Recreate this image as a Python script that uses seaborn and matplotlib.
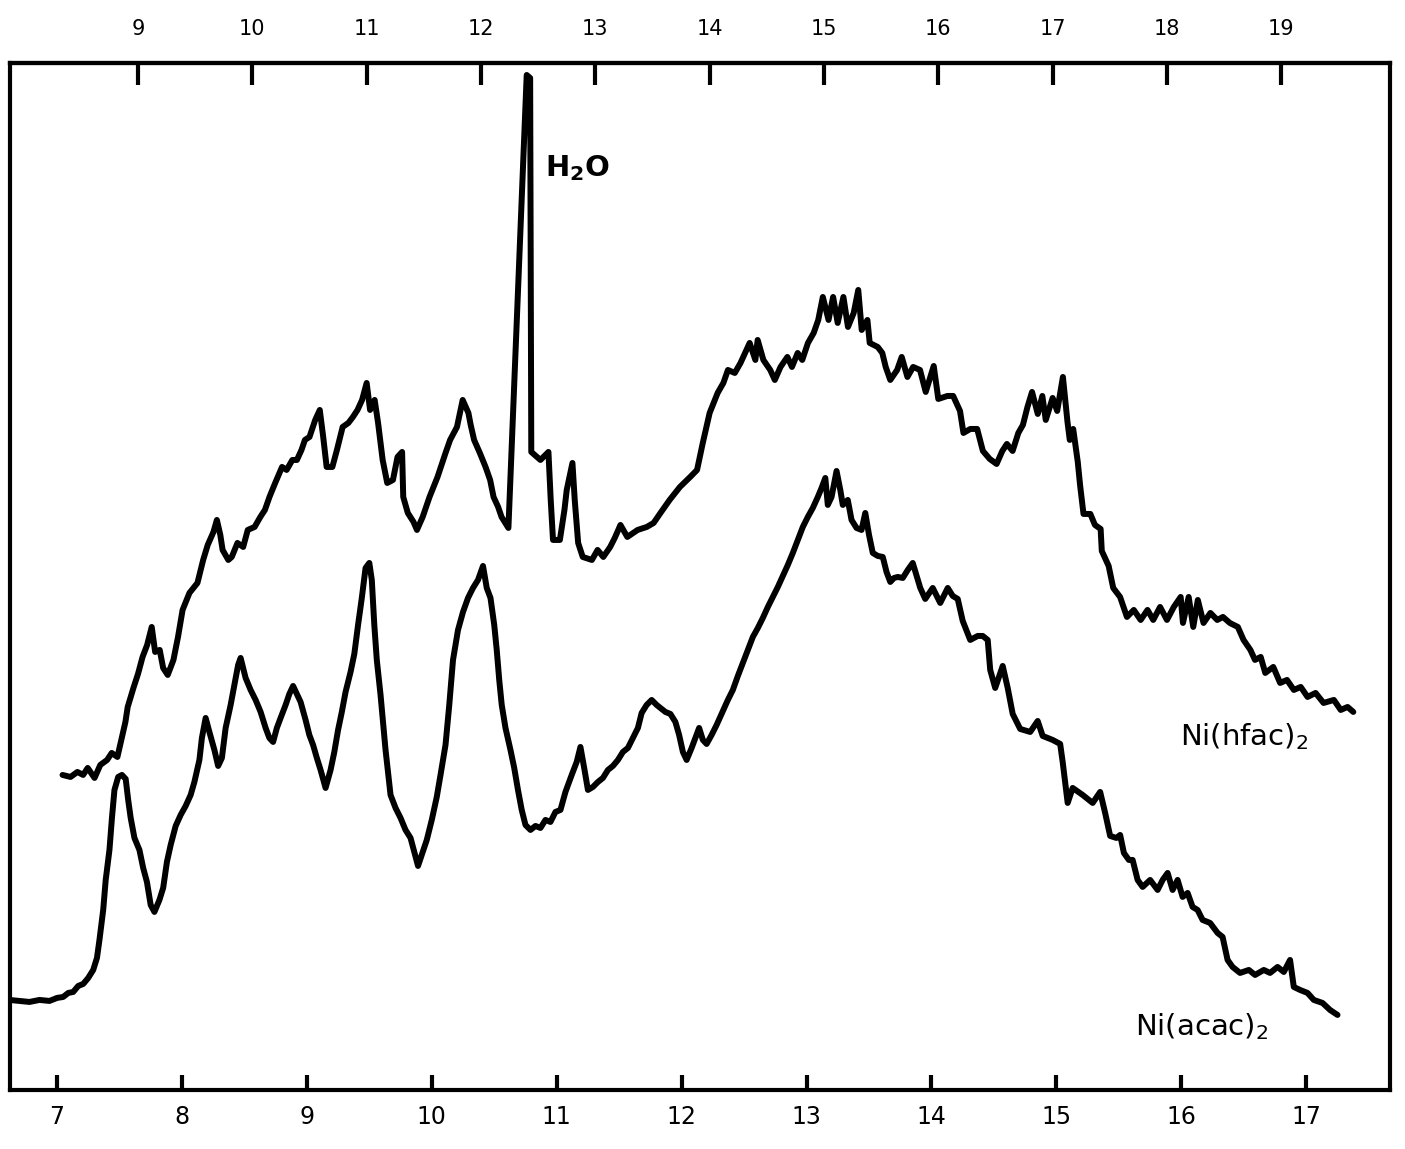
import numpy as np
import matplotlib
matplotlib.use("Agg")
import matplotlib.pyplot as plt
import seaborn as sns

# Ni(acac)2 photoelectron spectrum: ionization energy (eV, lower scale) and count rate (arb. units)
acac_ev = [6.62, 6.70, 6.78, 6.86, 6.94, 7.00, 7.05, 7.09, 7.13, 7.17, 7.21, 7.25, 7.29, 7.32, 7.34,
           7.37, 7.39, 7.42, 7.44, 7.46, 7.49, 7.52, 7.55, 7.57, 7.59, 7.62, 7.66, 7.69, 7.72, 7.75,
           7.78, 7.82, 7.85, 7.88, 7.91, 7.95, 7.99, 8.03, 8.07, 8.10, 8.14, 8.16, 8.19, 8.22, 8.26,
           8.29, 8.32, 8.35, 8.39, 8.42, 8.45, 8.47, 8.51, 8.55, 8.59, 8.63, 8.67, 8.70, 8.73, 8.76,
           8.79, 8.83, 8.86, 8.89, 8.92, 8.95, 8.99, 9.02, 9.05, 9.08, 9.11, 9.15, 9.19, 9.22, 9.25,
           9.28, 9.31, 9.35, 9.38, 9.41, 9.44, 9.47, 9.50, 9.52, 9.54, 9.56, 9.59, 9.61, 9.63, 9.67,
           9.71, 9.75, 9.79, 9.83, 9.86, 9.89, 9.92, 9.96, 10.00, 10.04, 10.07, 10.11, 10.14, 10.17,
           10.21, 10.25, 10.29, 10.33, 10.37, 10.41, 10.44, 10.47, 10.50, 10.52, 10.54, 10.56, 10.59,
           10.63, 10.66, 10.69, 10.72, 10.75, 10.79, 10.83, 10.87, 10.91, 10.95, 10.99, 11.03, 11.07,
           11.12, 11.16, 11.19, 11.22, 11.25, 11.29, 11.33, 11.37, 11.41, 11.45, 11.49, 11.53, 11.57,
           11.61, 11.65, 11.68, 11.72, 11.76, 11.80, 11.83, 11.87, 11.91, 11.95, 11.98, 12.01, 12.04,
           12.08, 12.11, 12.14, 12.17, 12.20, 12.24, 12.28, 12.32, 12.37, 12.41, 12.45, 12.49, 12.53,
           12.57, 12.61, 12.65, 12.69, 12.73, 12.77, 12.81, 12.85, 12.89, 12.93, 12.97, 13.01, 13.05,
           13.09, 13.12, 13.15, 13.17, 13.20, 13.24, 13.27, 13.29, 13.33, 13.36, 13.40, 13.44, 13.47,
           13.50, 13.53, 13.57, 13.61, 13.64, 13.67, 13.70, 13.73, 13.77, 13.81, 13.85, 13.91, 13.95,
           14.01, 14.07, 14.13, 14.17, 14.21, 14.25, 14.31, 14.37, 14.41, 14.45, 14.47, 14.51, 14.57,
           14.61, 14.65, 14.71, 14.79, 14.85, 14.89, 14.97, 15.03, 15.05, 15.09, 15.13, 15.21, 15.29,
           15.35, 15.39, 15.43, 15.48, 15.51, 15.54, 15.58, 15.61, 15.65, 15.69, 15.75, 15.81, 15.85,
           15.89, 15.93, 15.97, 16.01, 16.05, 16.09, 16.13, 16.17, 16.23, 16.29, 16.33, 16.37, 16.41,
           16.47, 16.54, 16.59, 16.66, 16.71, 16.77, 16.82, 16.87, 16.90, 16.95, 17.01, 17.06, 17.13,
           17.19, 17.25]
acac_counts = [9.0, 8.9, 8.8, 9.0, 8.9, 9.2, 9.3, 9.7, 9.8, 10.4, 10.6, 11.2, 12.0, 13.2, 15.0,
               18.0, 21.0, 24.0, 27.2, 30.0, 31.3, 31.5, 31.1, 29.0, 27.2, 25.2, 24.0, 22.2, 20.8, 18.5,
               17.8, 19.0, 20.2, 22.8, 24.5, 26.4, 27.5, 28.4, 29.5, 30.8, 33.0, 35.2, 37.2, 35.8, 34.0,
               32.4, 33.2, 36.2, 38.5, 40.5, 42.5, 43.2, 41.2, 40.0, 39.0, 37.8, 36.2, 35.2, 34.8, 36.2,
               37.2, 38.5, 39.6, 40.4, 39.6, 38.8, 37.0, 35.5, 34.5, 33.2, 32.0, 30.2, 32.0, 33.8, 36.0,
               37.8, 39.8, 41.8, 43.6, 46.5, 49.2, 52.2, 52.7, 51.0, 46.5, 43.0, 39.5, 36.8, 34.0, 29.5,
               28.2, 27.2, 26.0, 25.2, 23.8, 22.4, 23.5, 25.0, 27.0, 29.3, 31.5, 34.5, 38.5, 43.0,
               46.0, 47.8, 49.2, 50.2, 51.0, 52.4, 50.2, 49.2, 46.5, 44.0, 41.0, 38.5, 36.2,
               34.0, 32.2, 30.0, 28.0, 26.5, 26.0, 26.4, 26.2, 27.0, 26.8, 27.8, 28.0, 29.8,
               31.5, 32.8, 34.3, 32.2, 30.0, 30.3, 30.8, 31.2, 32.0, 32.4, 33.0, 33.8, 34.2,
               35.2, 36.2, 37.7, 38.5, 39.0, 38.5, 38.2, 37.8, 37.6, 36.8, 35.5, 33.8, 33.0,
               34.2, 35.2, 36.2, 35.0, 34.6, 35.5, 36.5, 37.6, 39.0, 40.0, 41.4, 42.7, 44.0,
               45.3, 46.2, 47.2, 48.3, 49.3, 50.3, 51.4, 52.5, 53.7, 55.0, 56.3, 57.3, 58.2,
               59.3, 60.2, 61.2, 58.5, 59.3, 61.9, 60.0, 58.5, 59.0, 57.0, 56.2, 56.0, 57.7,
               55.5, 53.7, 53.4, 53.3, 51.8, 50.8, 51.2, 51.3, 51.2, 52.0, 52.7, 50.2, 49.1,
               50.2, 48.7, 50.2, 49.4, 49.1, 46.9, 45.0, 45.4, 45.4, 45.0, 42.0, 40.2, 42.4,
               40.2, 37.6, 36.1, 35.8, 36.9, 35.4, 35.0, 34.6, 32.8, 28.7, 30.2, 29.5, 28.7,
               29.8, 27.7, 25.4, 25.2, 25.5, 23.7, 23.0, 23.0, 21.0, 20.3, 21.0, 20.0, 21.0,
               21.7, 20.0, 21.0, 19.3, 19.7, 18.3, 18.0, 17.0, 16.7, 15.7, 15.3, 13.0, 12.3,
               11.7, 12.0, 11.5, 12.0, 11.7, 12.3, 11.8, 13.0, 10.3, 10.0, 9.7, 9.0, 8.7,
               8.0, 7.5]

# Ni(hfac)2 photoelectron spectrum: ionization energy (eV, upper scale) and count rate
hfac_ev = [8.34, 8.41, 8.47, 8.52, 8.56, 8.62, 8.67, 8.73, 8.77, 8.82, 8.84, 8.89, 8.91, 8.96, 9.00,
           9.04, 9.08, 9.12, 9.15, 9.19, 9.22, 9.26, 9.31, 9.35, 9.39, 9.45, 9.52, 9.57, 9.61, 9.66,
           9.69, 9.72, 9.74, 9.79, 9.82, 9.87, 9.92, 9.96, 10.02, 10.07, 10.11, 10.15, 10.20, 10.26,
           10.30, 10.35, 10.39, 10.43, 10.46, 10.50, 10.55, 10.59, 10.62, 10.65, 10.70, 10.74, 10.79,
           10.84, 10.88, 10.92, 10.96, 11.00, 11.03, 11.07, 11.10, 11.14, 11.18, 11.23, 11.27, 11.31,
           11.32, 11.36, 11.41, 11.44, 11.49, 11.55, 11.62, 11.69, 11.73, 11.79, 11.84, 11.89, 11.91,
           11.94, 11.99, 12.04, 12.08, 12.11, 12.15, 12.18, 12.24, 12.40, 12.43, 12.44, 12.52, 12.59,
           12.61, 12.63, 12.69, 12.73, 12.75, 12.80, 12.82, 12.85, 12.89, 12.97, 13.02, 13.07, 13.13,
           13.17, 13.22, 13.28, 13.37, 13.45, 13.51, 13.57, 13.65, 13.74, 13.83, 13.89, 13.94, 14.00,
           14.07, 14.12, 14.16, 14.22, 14.27, 14.31, 14.35, 14.40, 14.42, 14.47, 14.53, 14.57, 14.62,
           14.68, 14.72, 14.77, 14.81, 14.86, 14.91, 14.95, 14.99, 15.04, 15.08, 15.12, 15.17, 15.21,
           15.26, 15.30, 15.33, 15.38, 15.40, 15.47, 15.51, 15.54, 15.58, 15.64, 15.68, 15.73, 15.78,
           15.84, 15.89, 15.96, 16.00, 16.08, 16.13, 16.19, 16.22, 16.28, 16.34, 16.39, 16.45, 16.51,
           16.56, 16.60, 16.65, 16.70, 16.74, 16.78, 16.82, 16.87, 16.91, 16.94, 17.00, 17.04, 17.09,
           17.13, 17.15, 17.18, 17.22, 17.24, 17.27, 17.33, 17.37, 17.42, 17.43, 17.49, 17.53, 17.59,
           17.65, 17.71, 17.77, 17.83, 17.88, 17.94, 18.00, 18.06, 18.12, 18.14, 18.19, 18.23, 18.27,
           18.32, 18.38, 18.44, 18.49, 18.55, 18.62, 18.67, 18.73, 18.77, 18.82, 18.86, 18.93, 18.99,
           19.05, 19.11, 19.17, 19.23, 19.30, 19.37, 19.46, 19.52, 19.58, 19.63]
hfac_counts = [31.5, 31.3, 31.8, 31.5, 32.2, 31.2, 32.5, 33.0, 33.7, 33.3, 34.3, 36.8, 38.3, 40.2, 41.6,
               43.3, 44.5, 46.3, 43.8, 44.0, 42.2, 41.5, 43.0, 45.3, 48.0, 49.7, 50.7, 53.0, 54.5, 55.8,
               57.0, 55.5, 54.0, 53.0, 53.3, 54.7, 54.3, 56.0, 56.3, 57.3, 58.0, 59.3, 60.7, 62.3,
               62.0, 63.0, 63.0, 64.0, 65.0, 65.3, 67.0, 68.0, 65.3, 62.3, 62.3, 64.0, 66.3,
               66.7, 67.3, 68.0, 69.0, 70.7, 68.0, 69.0, 66.7, 63.0, 60.7, 61.0, 63.3, 63.8,
               59.3, 57.7, 56.8, 56.0, 57.3, 59.3, 61.3, 63.7, 65.0, 66.3, 69.0, 67.7, 66.5,
               65.0, 63.7, 62.3, 61.0, 59.3, 58.3, 57.3, 56.2, 101.5, 101.2, 63.8, 63.0, 63.8,
               59.0, 55.0, 55.0, 58.0, 60.0, 62.7, 59.0, 54.7, 53.3, 53.0, 54.0, 53.3, 54.3,
               55.2, 56.5, 55.3, 56.0, 56.3, 56.7, 57.7, 59.0, 60.3, 61.3, 62.0, 64.7, 67.7,
               69.7, 70.7, 72.0, 71.7, 72.7, 73.7, 74.7, 73.0, 75.0, 73.0, 72.0, 71.0, 72.3,
               73.3, 72.3, 73.7, 73.0, 74.7, 75.7, 77.0, 79.3, 77.0, 79.3, 76.7, 79.3, 76.3,
               77.7, 80.0, 76.0, 77.0, 74.7, 74.3, 73.7, 72.3, 71.0, 72.0, 73.3, 71.3, 72.3,
               72.0, 69.8, 72.4, 69.1, 69.4, 69.4, 67.9, 65.7, 66.1, 66.1, 63.9, 63.1, 62.6,
               63.9, 64.6, 63.9, 65.7, 66.5, 68.3, 69.8, 67.6, 69.4, 67.0, 69.2, 67.9, 71.3,
               66.8, 65.0, 66.1, 62.8, 60.5, 57.6, 57.6, 56.5, 56.1, 53.9, 52.4, 50.2, 49.3,
               47.3, 48.0, 47.0, 48.0, 47.0, 48.3, 47.0, 48.3, 49.3, 46.7, 49.3, 46.3, 49.0,
               46.7, 47.7, 47.0, 47.3, 46.7, 46.3, 45.0, 44.0, 43.0, 43.3, 41.7, 42.3, 40.7,
               41.0, 40.0, 40.3, 39.3, 39.7, 38.7, 39.0, 38.0, 38.3, 37.8]

bottom_ticks = list(range(7, 18))
top_ticks = list(range(9, 20))


# the upper energy scale is offset and stretched relative to the lower one
def top_to_bottom(e):
    return 7.6485 + (np.asarray(e, dtype=float) - 9.0) * 0.91513


def bottom_to_top(e):
    return 9.0 + (np.asarray(e, dtype=float) - 7.6485) / 0.91513


sns.set_theme(style="white")
plt.rcParams["font.family"] = ["DejaVu Sans"]
plt.rcParams["mathtext.fontset"] = "dejavusans"
plt.rcParams["xtick.color"] = "black"

fig = plt.figure(figsize=(14.05, 11.49), dpi=100)
ax = fig.add_axes([0.00712, 0.0514, 0.9822, 0.8938])

pen = dict(color="black", lw=4.3, sort=False, estimator=None,
           solid_joinstyle="round", solid_capstyle="round")
sns.lineplot(x=np.asarray(acac_ev), y=np.asarray(acac_counts), ax=ax, **pen)
sns.lineplot(x=top_to_bottom(hfac_ev), y=np.asarray(hfac_counts), ax=ax, **pen)

ax.set_xlim(6.624, 17.67)
ax.set_ylim(0, 102.7)
ax.set_xlabel("")
ax.set_ylabel("")
ax.set_yticks([])
ax.set_xticks(bottom_ticks)
ax.set_xticklabels([str(t) for t in bottom_ticks])
ax.tick_params(axis="x", direction="in", length=11, width=3, labelsize=17, pad=11,
               bottom=True, top=False, colors="black")
for sp in ax.spines.values():
    sp.set_linewidth(3)
    sp.set_color("black")

sec = ax.secondary_xaxis("top", functions=(bottom_to_top, top_to_bottom))
sec.set_xticks(top_ticks)
sec.set_xticklabels([str(t) for t in top_ticks])
sec.tick_params(direction="in", length=16, width=3, labelsize=15, pad=17, colors="black")
sec.spines["top"].set_linewidth(3)
sec.spines["top"].set_color("black")

ax.text(10.91, 92.2, r"H$_\mathbf{2}$O", fontsize=21, fontweight="bold",
        ha="left", va="center", color="black")
ax.text(15.99, 35.3, r"Ni(hfac)$_2$", fontsize=21, ha="left", va="center", color="black")
ax.text(15.63, 6.3, r"Ni(acac)$_2$", fontsize=21, ha="left", va="center", color="black")

fig.savefig("out.png", dpi=100, facecolor="white")
